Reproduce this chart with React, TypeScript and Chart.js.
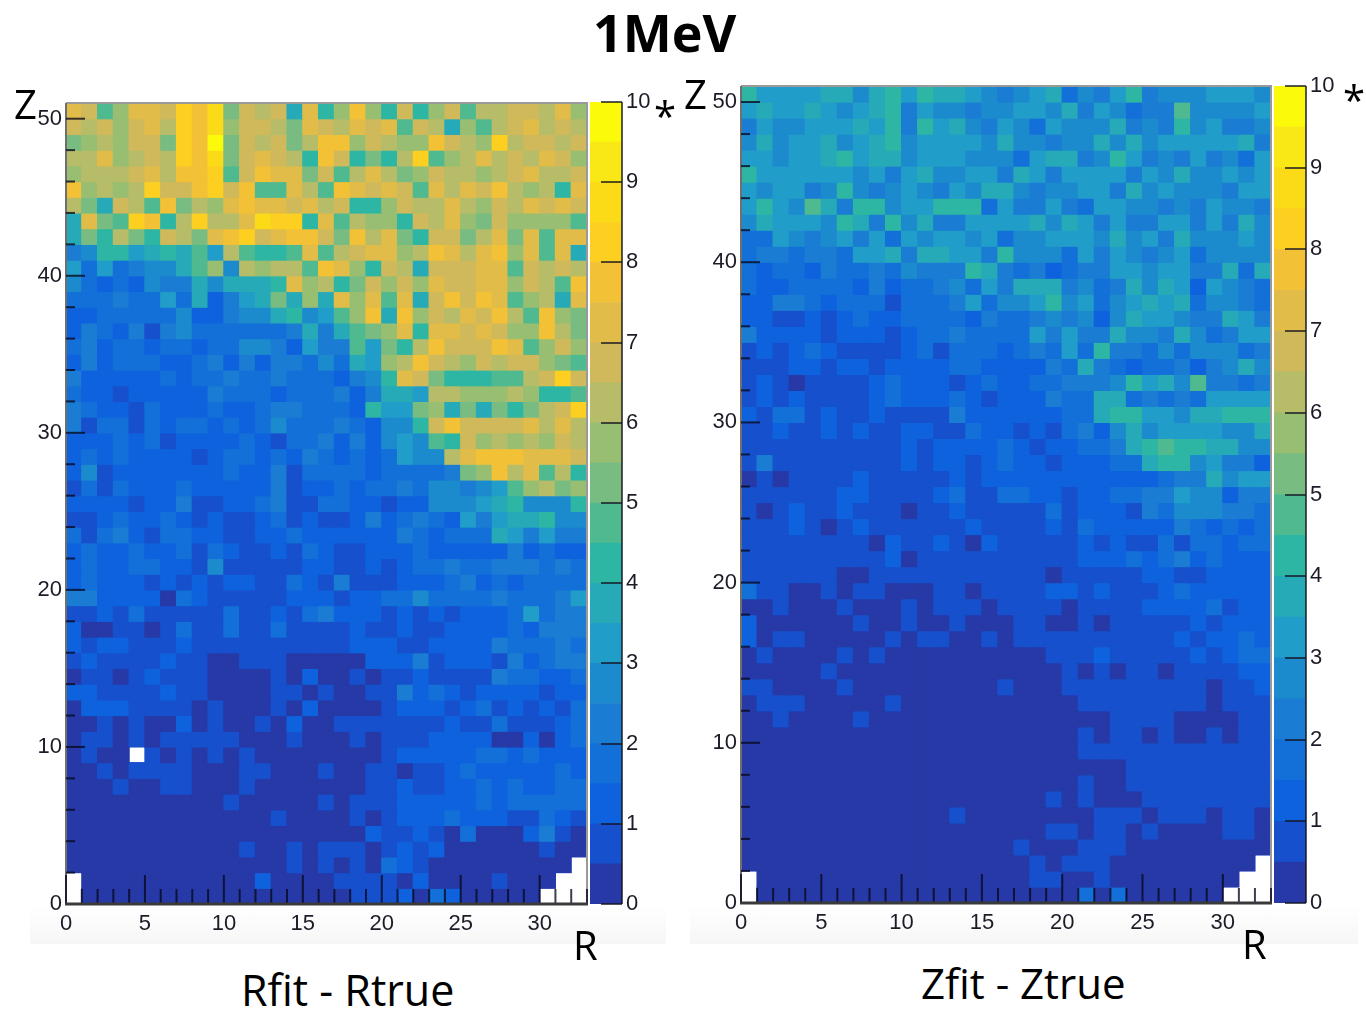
import React, { useEffect, useRef } from "react";
import { Chart, registerables } from "chart.js";

Chart.register(...registerables);

const FONT = '"Liberation Sans", Arial, sans-serif';
const TEXT_FONT = '"Open Sans", "Noto Sans", sans-serif';

// Colour level of each 0.5-wide band of the palette axis, from 0 to 10.
const paletteColors = [
  "#2639A6", "#1650CC", "#0F62DE", "#1370D8", "#1A7CD2", "#1C8BCE", "#219DC9", "#27AAB7", "#2DB6A4", "#4FB98F",
  "#78BC82", "#98BE72", "#B6BC68", "#CFB95A", "#E1BC49", "#F3C136", "#FDCF21", "#FBDB18", "#F9E815", "#FAFA0A",
];
const levelStep = 0.5;

// One string per Z row, top (Z = 50) to bottom (Z = 0); each character is the
// palette band of an R bin (base 20), "." is an empty bin.
const rfitRows = [
  "ed9beedgfh adcd7e8bfb 8d8bd9ccdd ceb",
  "dcdbdecgfh bddcaedced e9dc7b9cde cdc",
  "abcbddagfj adcdacffbd cbbfdcbgcd dcd",
  "ccebcdcgfh adedc8fd8a 8cg9bcecdc edb",
  "bcccdecffg 9dfeead9ce cabdccbcde ccd",
  "fbcbcgddfg df99ec9fed ed9ecedfcb c8e",
  "ca7dc9facb efeedecd88 bdccecbdce ded",
  "7ea9gf8cgc cehgg8e9cb b8dcebadbb bb9",
  "7a8ca8dcae fgdeffdafc ea8ddaceae 9ee",
  "4588678796 c9889e9cde ebcfecefbe 9e7",
  "636345579b 5cbcc9feb8 dc7dddee9d cdc",
  "5323254475 7778ebc8ad bdbeddeebd c9f",
  "3334336372 467a7b7ebe 9e7dfdfe9b c7e",
  "2233333522 455785 69bf 7fbdcedfc9 fba",
  "2432414533 333347479a be8eededbb fca",
  "3423323323 3554264496 a8cfdddfe9 bdb",
  "2423332234 2424435376 bcfdcbdcdd ba9",
  "4222223233 4334333245 8eda88899c dgd",
  "3221222224 3332333424 776ccbbbcb 889",
  "4322132223 2234433328 66ab7a7a8a cdg",
  "4133132332 3235333432 558dfdddde cec",
  "2223231222 2321334242 56598dbcbc bdc",
  "2323222212 3323243232 3655cefffe eed",
  "2512222222 3224133332 33334abfce 9c8",
  "1313222322 2224122323 343554569b cab",
  "2222122411 2234113322 1225556785 558",
  "1123223212 1123121124 2343264677 855",
  "3134213322 1122322222 2432333764 644",
  "2322322313 2112132112 2232222242 322",
  "2322332215 1111122112 1233433444 343",
  "2322212121 2211321411 1222342323 333",
  "4422220321 1111222122 3353333433 346",
  "1121311111 3112134222 1212122236 344",
  "2001101311 3113111121 1211222232 444",
  "2122111211 1111111122 2112222433 343",
  "1211112110 0111000002 2241222142 344",
  "0110121110 0001020010 1121111433 223",
  "2211112110 0001101001 1423212222 122",
  "0222111101 0001020000 1222123121 213",
  "0010100201 0010200111 1111211311 123",
  "0110101111 1000100010 1112222002 023",
  "0100.10101 0100000000 1222223323 222",
  "0010111100 0110001001 1011232222 232",
  "0001001100 0100000001 1211223232 233",
  "0000000000 1000001011 1222223233 333",
  "0000000000 0001000010 1222322211 321",
  "0000000000 0000000002 1121030002 410",
  "0000000000 0100101110 1212000000 100",
  "0000000000 0000101010 3210000000 00.",
  ".000000000 0020000111 1020000100 0..",
  ".000000000 0000000011 1203200000 ...",
];

const zfitRows = [
  "8666677578 6877654567 3546845556 665",
  "6766765678 4655455665 7465344955 556",
  "4655666768 4867546536 5557454856 445",
  "5756675678 5666657554 5575756666 674",
  "6656678677 5666555367 7458645464 536",
  "8666666564 6755664764 6666465755 656",
  "6566458545 6546577545 5664756555 466",
  "6865974885 6688836446 4366554546 554",
  "5766658748 5744666675 7646446646 475",
  "3365456463 6566563556 6657564755 565",
  "3443443667 4776648555 3646545635 555",
  "3233243343 5444874342 3446656644 737",
  "3223333242 3345364777 4534757626 543",
  "2244323331 3334635568 5635676735 543",
  "2211212322 3333243345 4525766544 764",
  "4222212221 2334333364 6447554753 466",
  "1212321111 2313332343 6384435355 534",
  "1112212212 2223322224 3743233424 575",
  "1210111123 2221232233 4445867594 434",
  "1212111123 2223212224 3377343436 666",
  "2133121121 1114222222 3378866577 888",
  "1121121211 2211322121 3425756666 557",
  "1111111111 2122223212 2334789887 755",
  "1411111111 2122123221 2223378856 442",
  "0101111211 1112122222 2222223447 566",
  "1111112211 1123113322 1223344655 244",
  "1012112111 0112111113 1222143555 443",
  "1112101211 1111211112 1322222432 323",
  "1111111102 1121021111 1212113133 233",
  "1111111112 0111111111 1222323423 222",
  "1111110011 1111111110 1111122112 222",
  "3110010110 0011011112 2121112322 222",
  "0010001000 1011101111 0111122223 122",
  "2000000100 1001000110 0101111121 222",
  "2011000001 0110010111 1111111212 232",
  "0100001010 0000000001 1121111121 233",
  "0000010000 0000000000 1010110111 122",
  "1100001000 0000001000 1111111110 112",
  "0111000001 0000000000 0111111110 111",
  "0010000100 0000000000 0001111000 011",
  "0000000000 0000000000 0101101001 011",
  "0000000000 0000000000 0111111111 111",
  "0000000000 0000000000 0000111111 111",
  "0000000000 0000000000 0100111111 111",
  "0000000000 0000000001 0100011111 111",
  "0000000000 0001000000 0011101110 110",
  "0000000000 0000000001 1011010000 110",
  "0000000000 0000000100 0111000000 000",
  "0000000000 0000000010 1110000000 00.",
  ".000000000 0000000011 0010000000 0..",
  ".000000000 0000000000 0303000000 ...",
];

const rMax = 33;
const zMax = 51;
const rMajorStep = 5;
const zMajorStep = 10;
const zMinorStep = 2;
const paletteMax = 10;

type Box = { left: number; top: number; right: number; bottom: number };

const tickColor = "rgba(8,8,30,0.78)";
const labelColor = "#1c1c28";
const tickFontSize = 22;

const noPadding = (s: any) => {
  s.paddingTop = 0;
  s.paddingBottom = 0;
  s.paddingLeft = 0;
  s.paddingRight = 0;
};

const heatFrame = {
  id: "heatFrame",
  afterDatasetsDraw(chart: any) {
    const { ctx, chartArea: a, scales } = chart;
    ctx.save();
    ctx.strokeStyle = "#9a9a9a";
    ctx.lineWidth = 2;
    ctx.beginPath();
    ctx.moveTo(a.left, a.top);
    ctx.lineTo(a.right, a.top);
    ctx.lineTo(a.right, a.bottom);
    ctx.stroke();
    ctx.strokeStyle = "#6f6f6f";
    ctx.beginPath();
    ctx.moveTo(a.left, a.top);
    ctx.lineTo(a.left, a.bottom);
    ctx.stroke();
    ctx.strokeStyle = tickColor;
    for (let r = 0; r <= rMax; r++) {
      const px = scales.x.getPixelForValue(r);
      const len = r % rMajorStep === 0 && r <= 30 ? 29 : 15;
      ctx.lineWidth = 2;
      ctx.beginPath();
      ctx.moveTo(px, a.bottom);
      ctx.lineTo(px, a.bottom - len);
      ctx.stroke();
    }
    for (let z = 0; z < zMax; z += zMinorStep) {
      const py = scales.y.getPixelForValue(z);
      const len = z % zMajorStep === 0 ? 19 : 9;
      ctx.beginPath();
      ctx.moveTo(a.left, py);
      ctx.lineTo(a.left + len, py);
      ctx.stroke();
    }
    ctx.strokeStyle = "#3a3a3a";
    ctx.lineWidth = 3;
    ctx.beginPath();
    ctx.moveTo(a.left - 1, a.bottom);
    ctx.lineTo(a.right + 1, a.bottom);
    ctx.stroke();
    ctx.restore();
  },
};

const paletteFrame = {
  id: "paletteFrame",
  afterDatasetsDraw(chart: any) {
    const { ctx, chartArea: a, scales } = chart;
    ctx.save();
    ctx.strokeStyle = "rgba(20,20,30,0.72)";
    ctx.lineWidth = 2;
    ctx.beginPath();
    ctx.moveTo(a.right, a.top);
    ctx.lineTo(a.right, a.bottom);
    ctx.stroke();
    for (let v = 0; v <= paletteMax; v++) {
      const py = Math.round(scales.y.getPixelForValue(v));
      ctx.beginPath();
      ctx.moveTo(a.right, py);
      ctx.lineTo(a.right - 21, py);
      ctx.stroke();
    }
    ctx.restore();
  },
};

function buildHeatDatasets(rows: string[]) {
  return rows.map((raw, rowIndex) => {
    const cells = raw.replace(/\s/g, "").split("");
    const z = zMax - 1 - rowIndex;
    const data: any[] = [];
    const backgroundColor: string[] = [];
    cells.forEach((ch, r) => {
      if (ch === ".") return;
      const level = parseInt(ch, 20);
      data.push({ x: r + 0.5, y: [z, z + 1] });
      backgroundColor.push(paletteColors[level]);
    });
    return { data, backgroundColor, borderWidth: 0, inflateAmount: 0.6, barPercentage: 1, categoryPercentage: 1, grouped: false };
  });
}

function HeatPanel({ rows, canvas, plot }: { rows: string[]; canvas: Box; plot: Box }) {
  const ref = useRef<HTMLCanvasElement>(null);
  useEffect(() => {
    const chart = new Chart(ref.current!, {
      type: "bar",
      data: { datasets: buildHeatDatasets(rows) as any },
      plugins: [heatFrame],
      options: {
        animation: false,
        responsive: false,
        layout: {
          padding: { top: plot.top - canvas.top, right: canvas.right - plot.right, left: 0, bottom: 0 },
        },
        plugins: { legend: { display: false }, tooltip: { enabled: false } },
        scales: {
          x: {
            type: "linear",
            offset: false,
            min: 0,
            max: rMax,
            grid: { display: false, drawTicks: false, offset: false },
            border: { display: false },
            afterFit: (s: any) => { s.height = canvas.bottom - plot.bottom; noPadding(s); },
            ticks: {
              stepSize: rMajorStep,
              includeBounds: false,
              maxRotation: 0,
              autoSkip: false,
              padding: 7,
              color: labelColor,
              font: { family: FONT, size: tickFontSize },
            },
          },
          y: {
            type: "linear",
            min: 0,
            max: zMax,
            grid: { display: false, drawTicks: false },
            border: { display: false },
            afterFit: (s: any) => { s.width = plot.left - canvas.left; noPadding(s); },
            ticks: {
              stepSize: zMajorStep,
              includeBounds: false,
              autoSkip: false,
              padding: 4,
              color: labelColor,
              font: { family: FONT, size: tickFontSize },
            },
          },
        },
      } as any,
    });
    return () => chart.destroy();
  }, []);
  return (
    <canvas
      ref={ref}
      width={canvas.right - canvas.left}
      height={canvas.bottom - canvas.top}
      style={{ position: "absolute", left: canvas.left, top: canvas.top, width: canvas.right - canvas.left, height: canvas.bottom - canvas.top }}
    />
  );
}

function PaletteBar({ canvas, plot }: { canvas: Box; plot: Box }) {
  const ref = useRef<HTMLCanvasElement>(null);
  useEffect(() => {
    const chart = new Chart(ref.current!, {
      type: "bar",
      data: {
        labels: [""],
        datasets: paletteColors.map((color, i) => ({
          data: [[i * levelStep, (i + 1) * levelStep]],
          backgroundColor: color,
          borderWidth: 0,
          barPercentage: 1,
          categoryPercentage: 1,
          grouped: false,
        })) as any,
      },
      plugins: [paletteFrame],
      options: {
        animation: false,
        responsive: false,
        layout: { padding: { top: plot.top - canvas.top, bottom: canvas.bottom - plot.bottom, left: plot.left - canvas.left, right: 0 } },
        plugins: { legend: { display: false }, tooltip: { enabled: false } },
        scales: {
          x: { display: false },
          y: {
            position: "right",
            min: 0,
            max: paletteMax,
            grid: { display: false, drawTicks: false },
            border: { display: false },
            afterFit: (s: any) => { s.width = canvas.right - plot.right; noPadding(s); },
            ticks: { stepSize: 1, autoSkip: false, padding: 4, color: labelColor, font: { family: FONT, size: tickFontSize } },
          },
        },
      } as any,
    });
    return () => chart.destroy();
  }, []);
  return (
    <canvas
      ref={ref}
      width={canvas.right - canvas.left}
      height={canvas.bottom - canvas.top}
      style={{ position: "absolute", left: canvas.left, top: canvas.top, width: canvas.right - canvas.left, height: canvas.bottom - canvas.top }}
    />
  );
}

function Label({ x, y, size, bold, children }: { x: number; y: number; size: number; bold?: boolean; children: React.ReactNode }) {
  return (
    <div
      style={{
        position: "absolute",
        left: x,
        top: y,
        fontFamily: TEXT_FONT,
        fontSize: size,
        fontWeight: bold ? 700 : 400,
        lineHeight: 1,
        whiteSpace: "nowrap",
        color: "#000",
      }}
    >
      {children}
    </div>
  );
}

export default function App() {
  return (
    <div style={{ position: "fixed", left: 0, top: 0, width: 1366, height: 1009, background: "#fff", overflow: "hidden" }}>
      <div style={{ position: "absolute", left: 30, top: 905, width: 636, height: 39, background: "linear-gradient(#ffffff, #f6f6f6)" }} />
      <div style={{ position: "absolute", left: 690, top: 905, width: 668, height: 39, background: "linear-gradient(#ffffff, #f6f6f6)" }} />

      <HeatPanel rows={rfitRows} canvas={{ left: 20, top: 90, right: 589, bottom: 945 }} plot={{ left: 66, top: 103, right: 587, bottom: 904 }} />
      <PaletteBar canvas={{ left: 589, top: 90, right: 660, bottom: 925 }} plot={{ left: 590, top: 102, right: 622, bottom: 904 }} />
      <HeatPanel rows={zfitRows} canvas={{ left: 695, top: 75, right: 1273, bottom: 945 }} plot={{ left: 741, top: 86, right: 1271, bottom: 903 }} />
      <PaletteBar canvas={{ left: 1273, top: 75, right: 1345, bottom: 925 }} plot={{ left: 1274, top: 86, right: 1306, bottom: 903 }} />

      <Label x={593} y={6} size={52} bold>1MeV</Label>
      <Label x={14} y={84} size={40}>Z</Label>
      <Label x={684} y={74} size={40}>Z</Label>
      <Label x={573} y={925} size={40}>R</Label>
      <Label x={1242} y={924} size={40}>R</Label>
      <Label x={654} y={96} size={40}>*</Label>
      <Label x={1343} y={80} size={40}>*</Label>
      <Label x={241} y={968} size={43}>Rfit - Rtrue</Label>
      <Label x={921} y={962} size={42}>Zfit - Ztrue</Label>
    </div>
  );
}
